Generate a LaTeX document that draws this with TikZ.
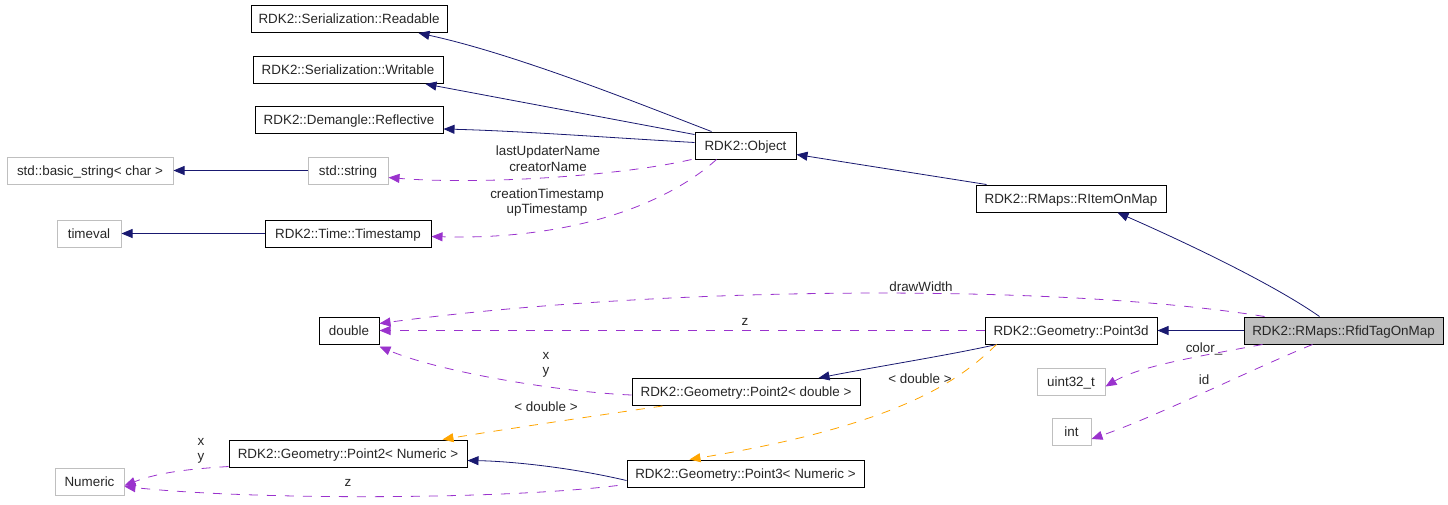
\documentclass[tikz,border=0pt]{standalone}
\usepackage{fontspec}
\setmainfont{Liberation Sans}
\usetikzlibrary{arrows.meta}
\definecolor{navy}{HTML}{191970}
\definecolor{purp}{HTML}{9A32CD}
\definecolor{orng}{HTML}{FFA500}
\definecolor{gbox}{HTML}{BFBFBF}
\begin{document}
\begin{tikzpicture}[x=1pt,y=-1pt,
  every node/.style={font=\fontsize{13.4}{15.5}\selectfont, inner sep=0pt, text=black!85},
  box/.style={line width=1pt, minimum height=27pt, text height=9.5pt, text depth=0pt},
  cls/.style={box, draw=black},
  ext/.style={box, draw=gbox},
  tip/.style={-{Triangle[length=11pt,width=9pt]}},
  inh/.style={draw=navy, line width=0.8pt, tip},
  use/.style={draw=purp, line width=0.8pt, dash pattern=on 9pt off 9pt, tip},
  tpl/.style={draw=orng, line width=0.8pt, dash pattern=on 9pt off 9pt, tip},
  lbl/.style={align=center}]
\useasboundingbox (0,0) rectangle (1448,504);
% nodes
\node[cls, minimum width=196pt] (read) at (349,19) {RDK2::Serialization::Readable};
\node[cls, minimum width=190pt] (wri) at (348,70) {RDK2::Serialization::Writable};
\node[cls, minimum width=188pt] (refl) at (349,120) {RDK2::Demangle::Reflective};
\node[ext, minimum width=166pt] (bstr) at (90,170.5) {std::basic\_string< char >};
\node[ext, minimum width=80pt] (str) at (348,170.5) {std::string};
\node[ext, minimum width=64pt] (tv) at (89,233.5) {timeval};
\node[cls, minimum width=166pt] (ts) at (348,233.5) {RDK2::Time::Timestamp};
\node[cls, minimum width=101pt] (obj) at (745.5,145.5) {RDK2::Object};
\node[cls, minimum width=190pt] (rim) at (1071,198.5) {RDK2::RMaps::RItemOnMap};
\node[cls, minimum width=60pt] (dbl) at (349,330.5) {double};
\node[cls, minimum width=172pt] (p3d) at (1071,330.5) {RDK2::Geometry::Point3d};
\node[cls, minimum width=199pt, fill=gbox] (rfid) at (1343.5,330.5) {RDK2::RMaps::RfidTagOnMap};
\node[ext, minimum width=68pt] (u32) at (1071,381.5) {uint32\_t};
\node[ext, minimum width=39pt] (int) at (1071.5,432) {int};
\node[cls, minimum width=228pt] (p2d) at (746,392) {RDK2::Geometry::Point2< double >};
\node[cls, minimum width=238pt] (p2n) at (348,453.5) {RDK2::Geometry::Point2< Numeric >};
\node[cls, minimum width=237pt] (p3n) at (745.5,473.5) {RDK2::Geometry::Point3< Numeric >};
\node[ext, minimum width=69pt] (num) at (89.5,481.5) {Numeric};
% labels
\node[lbl] (l1) at (548,158.5) {lastUpdaterName\\creatorName};
\node[lbl] (l2) at (547,202.5) {creationTimestamp\\upTimestamp};
\node[lbl] (l3) at (921,287) {drawWidth};
\node[lbl] (l4) at (745,322) {z};
\node[lbl] (l5) at (1204,349) {color\_};
\node[lbl] (l6) at (1204,380) {id};
\node[lbl] (l7) at (546,365) {x\\y};
\node[lbl] (l8) at (546,407) {< double >};
\node[lbl] (l9) at (920,379) {< double >};
\node[lbl] (l10) at (201,451) {x\\y};
\node[lbl] (l11) at (348,483) {z};
% inheritance edges
\draw[inh] ([xshift=17pt]obj.north west) .. controls (655,110) and (520,55) .. ([xshift=-29pt]read.south east);
\draw[inh] ([yshift=-3pt]obj.north west) -- ([xshift=-18pt]wri.south east);
\draw[inh] ([yshift=-11pt]obj.north west) .. controls (600,137) and (520,131) .. ([yshift=5pt]refl.south east);
\draw[inh] (str.west) -- (bstr.east);
\draw[inh] (ts.west) -- (tv.east);
\draw[inh] ([xshift=11pt]rim.north west) -- ([yshift=5pt]obj.south east);
\draw[inh] ([xshift=76pt]rfid.north west) .. controls (1270,282) and (1180,240) .. ([xshift=-49pt]rim.south east);
\draw[inh] (rfid.west) -- (p3d.east);
\draw[inh] ([xshift=12pt]p3d.south west) .. controls (950,355) and (880,366) .. ([xshift=-42pt]p2d.north east);
\draw[inh] ([yshift=7pt]p3n.south west) .. controls (560,465) and (500,461) .. ([yshift=7pt]p2n.south east);
% usage edges
\draw[use] ([xshift=-3pt]obj.south west) .. controls (620,176) and (480,185) .. ([yshift=7pt]str.south east);
\draw[use] ([xshift=22pt]obj.south west) .. controls (660,210) and (560,240) .. ([yshift=-3pt]ts.east);
\draw[use] ([xshift=21pt]rfid.north west) .. controls (1050,282) and (650,287) .. ([yshift=-7pt]dbl.north east);
\draw[use] (p3d.west) -- (dbl.east);
\draw[use] ([xshift=19pt]rfid.south west) .. controls (1200,356) and (1140,366) .. ([yshift=-5pt]u32.east);
\draw[use] ([xshift=69pt]rfid.south west) .. controls (1250,370) and (1160,415) .. ([yshift=-7pt]int.east);
\draw[use] ([yshift=-3pt]p2d.west) .. controls (560,392) and (440,372) .. ([yshift=-2pt]dbl.south east);
\draw[use] ([yshift=1pt]p2n.south west) .. controls (190,469) and (160,472) .. ([yshift=-4pt]num.east);
\draw[use] ([xshift=-9pt,yshift=2pt]p3n.south west) .. controls (500,500) and (250,500) .. ([yshift=-5pt]num.east);
% template edges
\draw[tpl] ([xshift=31pt]p2d.south west) .. controls (600,415) and (500,430) .. ([xshift=-25pt]p2n.north east);
\draw[tpl] ([xshift=12pt]p3d.south west) .. controls (960,380) and (900,425) .. ([xshift=63pt]p3n.north west);
\end{tikzpicture}
\end{document}
